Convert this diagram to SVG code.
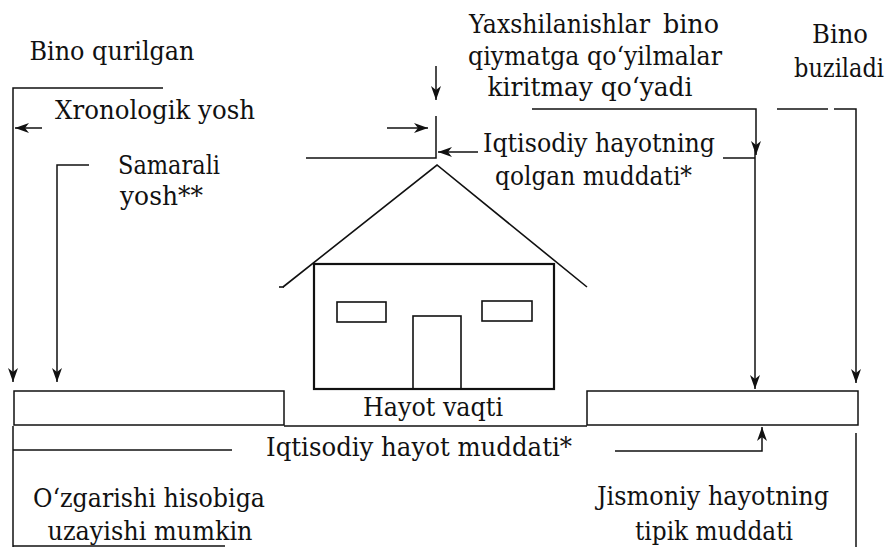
<svg xmlns="http://www.w3.org/2000/svg" width="891" height="547" viewBox="0 0 891 547">
  <defs>
    <marker id="arrow" markerUnits="userSpaceOnUse" markerWidth="15" markerHeight="10" refX="14" refY="5" orient="auto">
      <path d="M0,0 L14,5 L0,10 L4,5 z" fill="#111"/>
    </marker>
    <style>
      .t { font-family: "DejaVu Serif", "Liberation Serif", serif; font-size: 26px; fill: #111; }
      .c { text-anchor: middle; }
      .ln { fill: none; stroke: #111; stroke-width: 1.5; }
      .ar { fill: none; stroke: #111; stroke-width: 1.5; marker-end: url(#arrow); }
      .hs { fill: none; stroke: #111; stroke-width: 2.2; }
      .hw { fill: none; stroke: #111; stroke-width: 1.6; }
    </style>
  </defs>
  <rect width="891" height="547" fill="#fff"/>

  <!-- house -->
  <g id="house">
    <polyline class="hw" points="283,287 437,165 587,287"/>
    <line class="hw" x1="279" y1="287" x2="284" y2="287"/>
    <rect class="hs" x="314" y="264" width="240" height="125"/>
    <rect class="hw" x="337" y="302" width="49" height="20"/>
    <rect class="hw" x="482" y="301" width="50" height="20"/>
    <rect class="hw" x="413" y="316" width="48" height="73"/>
  </g>

  <!-- life-time bars -->
  <g id="lifebar">
    <rect class="ln" x="14" y="391" width="270" height="34"/>
    <rect class="ln" x="587" y="391" width="271" height="34"/>
    <line class="ln" x1="284" y1="426" x2="587" y2="426"/>
    <text class="t c" x="433" y="416" textLength="140" lengthAdjust="spacingAndGlyphs">Hayot vaqti</text>
  </g>

  <g id="built">
    <text class="t c" x="112" y="60" textLength="165" lengthAdjust="spacingAndGlyphs">Bino qurilgan</text>
  </g>
  <g id="chrono">
    <text class="t c" x="155" y="119" textLength="200" lengthAdjust="spacingAndGlyphs">Xronologik yosh</text>
  </g>
  <g id="effective">
    <text class="t" x="118" y="174" textLength="102" lengthAdjust="spacingAndGlyphs">Samarali</text>
    <text class="t" x="120" y="205" textLength="83" lengthAdjust="spacingAndGlyphs">yosh**</text>
  </g>
  <g id="improvements">
    <text class="t" y="33"><tspan x="469" textLength="181" lengthAdjust="spacingAndGlyphs">Yaxshilanishlar</tspan> <tspan x="663" textLength="56" lengthAdjust="spacingAndGlyphs">bino</tspan></text>
    <text class="t c" x="595" y="65" textLength="254" lengthAdjust="spacingAndGlyphs">qiymatga qo‘yilmalar</text>
    <text class="t c" x="590" y="96" textLength="205" lengthAdjust="spacingAndGlyphs">kiritmay qo‘yadi</text>
  </g>
  <g id="remaining">
    <text class="t" x="483" y="152" textLength="232" lengthAdjust="spacingAndGlyphs">Iqtisodiy hayotning</text>
    <text class="t" x="495" y="185" textLength="197" lengthAdjust="spacingAndGlyphs">qolgan muddati*</text>
  </g>
  <g id="demolished">
    <text class="t c" x="840" y="43" textLength="56" lengthAdjust="spacingAndGlyphs">Bino</text>
    <text class="t c" x="839" y="77" textLength="90" lengthAdjust="spacingAndGlyphs">buziladi</text>
  </g>
  <g id="economic">
    <text class="t c" x="419" y="456" textLength="306" lengthAdjust="spacingAndGlyphs">Iqtisodiy hayot muddati*</text>
  </g>
  <g id="extend">
    <text class="t c" x="149" y="507" textLength="232" lengthAdjust="spacingAndGlyphs">O‘zgarishi hisobiga</text>
    <text class="t c" x="150" y="540" textLength="205" lengthAdjust="spacingAndGlyphs">uzayishi mumkin</text>
  </g>
  <g id="physical">
    <text class="t c" x="713" y="505" textLength="232" lengthAdjust="spacingAndGlyphs">Jismoniy hayotning</text>
    <text class="t c" x="714" y="540" textLength="158" lengthAdjust="spacingAndGlyphs">tipik muddati</text>
  </g>

  <!-- connectors -->
  <g id="connectors">
    <polyline class="ar" points="163,88 13,88 13,382"/>
    <line class="ar" x1="42" y1="128" x2="15" y2="128"/>
    <polyline class="ar" points="89,165 57,165 57,382"/>

    <line class="ar" x1="436" y1="66" x2="436" y2="100"/>
    <polyline class="ln" points="306,158 436,158 436,116"/>
    <line class="ar" x1="387" y1="128" x2="428" y2="128"/>
    <line class="ar" x1="478" y1="152" x2="438" y2="152"/>

    <polyline class="ar" points="532,109 756,109 756,155"/>
    <line class="ar" x1="755" y1="150" x2="755" y2="389"/>
    <line class="ln" x1="723" y1="158" x2="755" y2="158"/>

    <line class="ln" x1="777" y1="109" x2="828" y2="109"/>
    <polyline class="ar" points="834,109 856,109 856,383"/>

    <line class="ln" x1="13" y1="426" x2="13" y2="547"/>
    <line class="ln" x1="13" y1="450" x2="232" y2="450"/>
    <line class="ln" x1="13" y1="546" x2="225" y2="546"/>
    <polyline class="ar" points="615,451 762,451 762,427"/>
    <line class="ln" x1="856" y1="433" x2="856" y2="547"/>
  </g>
</svg>
